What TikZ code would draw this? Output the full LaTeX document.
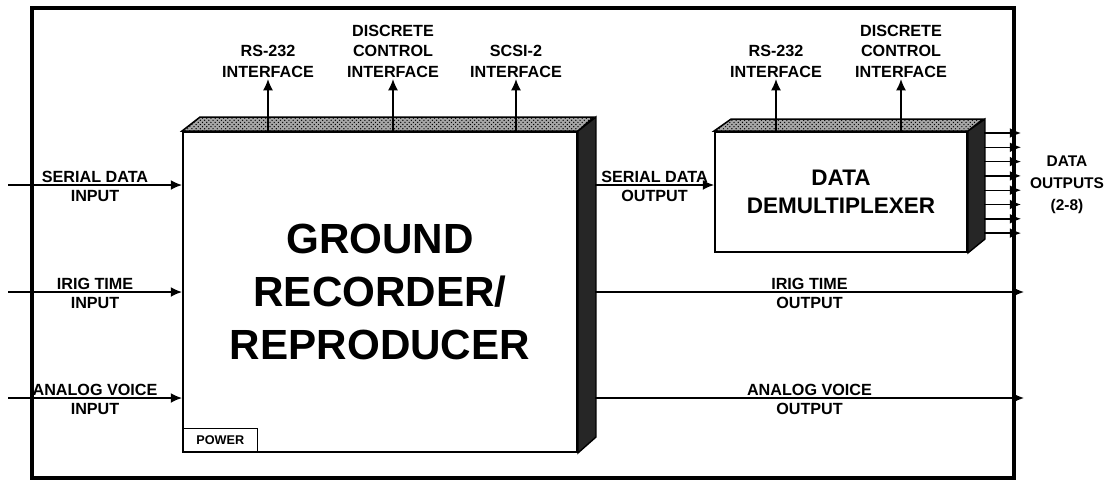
\documentclass[tikz,border=0pt]{standalone}
\usepackage{fontspec}
\setmainfont{Liberation Sans}
\usetikzlibrary{arrows.meta,positioning,patterns}

\tikzset{
  face/.style={draw, line width=1.3pt, fill=white, inner sep=0pt, align=center},
  topband/.style={draw, line width=1.1pt, preaction={fill=black!35}, pattern=crosshatch dots},
  sideband/.style={draw, line width=1pt, fill=black!85},
  sig/.style={line width=1pt, -{Latex[length=8pt,width=7pt]}},
  lbl/.style={font=\fontsize{11.5}{14.5}\selectfont\bfseries, align=center, inner sep=1pt},
}

\begin{document}
\begin{tikzpicture}[x=0.025cm,y=-0.025cm]
            \useasboundingbox (0,0) rectangle (1112,481);

            % outer frame
            \draw[line width=2.6pt] (32,8) rectangle (1014,478);

            % recorder box
            \node[face, minimum width=9.85cm, minimum height=8cm,
                  font=\fontsize{30}{37.5}\selectfont\bfseries] (grr) at (380,292)
                  {GROUND\\RECORDER/\\REPRODUCER};
            \draw[topband] (grr.north west) -- ++(18,-14) -- ++(394,0) -- (grr.north east) -- cycle;
            \draw[sideband] (grr.north east) -- ++(18,-14) -- ++(0,320) -- (grr.south east) -- cycle;
            \node[draw, line width=1pt, anchor=south west, minimum width=1.875cm, minimum height=0.6cm,
                  inner sep=0pt, font=\fontsize{9}{9}\selectfont\bfseries] (pwr) at (grr.south west) {POWER};

            % demultiplexer box
            \node[face, minimum width=6.3cm, minimum height=3cm,
                  font=\fontsize{16}{20}\selectfont\bfseries] (dmx) at (841,192)
                  {DATA\\DEMULTIPLEXER};
            \draw[topband] (dmx.north west) -- ++(17,-12) -- ++(252,0) -- (dmx.north east) -- cycle;
            \draw[sideband] (dmx.north east) -- ++(17,-12) -- ++(0,120) -- (dmx.south east) -- cycle;

            % interfaces on top
            \coordinate (rsa) at (268,132);
            \coordinate (dca) at (393,132);
            \coordinate (scs) at (516,132);
            \coordinate (rsb) at (776,132);
            \coordinate (dcb) at (901,132);
            \node[lbl, anchor=south] (rsalbl) at (268,79) {RS-232\\INTERFACE};
            \node[lbl, anchor=south] (dcalbl) at (393,79) {DISCRETE\\CONTROL\\INTERFACE};
            \node[lbl, anchor=south] (scslbl) at (516,79) {SCSI-2\\INTERFACE};
            \node[lbl, anchor=south] (rsblbl) at (776,79) {RS-232\\INTERFACE};
            \node[lbl, anchor=south] (dcblbl) at (901,79) {DISCRETE\\CONTROL\\INTERFACE};
            \foreach \p in {rsa,dca,scs,rsb,dcb} {
              \draw[sig] (\p) -- (\p lbl.south);
            }

            % inputs
            \coordinate (sdin) at (8,185);
            \coordinate (irin) at (8,292);
            \coordinate (avin) at (8,398);
            \draw[sig] (sdin) -- (grr.west |- sdin)
              node[lbl, midway, above] {SERIAL DATA} node[lbl, midway, below=2pt] {INPUT};
            \draw[sig] (irin) -- (grr.west |- irin)
              node[lbl, midway, above] {IRIG TIME} node[lbl, midway, below=2pt] {INPUT};
            \draw[sig] (avin) -- (grr.west |- avin)
              node[lbl, midway, above] {ANALOG VOICE} node[lbl, midway, below=2pt] {INPUT};

            % outputs
            \coordinate (sdout) at (595,185);
            \coordinate (irout) at (595,292);
            \coordinate (avout) at (595,398);
            \coordinate (irend) at (1024,292);
            \coordinate (avend) at (1024,398);
            \draw[sig] (sdout) -- (dmx.west |- sdout)
              node[lbl, midway, above] {SERIAL DATA} node[lbl, midway, below=2pt] {OUTPUT};
            \draw[sig] (irout) -- (irend)
              node[lbl, midway, above] {IRIG TIME} node[lbl, midway, below=2pt] {OUTPUT};
            \draw[sig] (avout) -- (avend)
              node[lbl, midway, above] {ANALOG VOICE} node[lbl, midway, below=2pt] {OUTPUT};

            % data outputs (2-8)
            \foreach \i in {0,...,7} {
              \coordinate (dsrc\i) at (984,133+14.3*\i);
              \coordinate (dout\i) at (1021,133+14.3*\i);
              \draw[sig] (dsrc\i) -- (dout\i);
            }
            \node[lbl, font=\fontsize{11}{15.5}\selectfont\bfseries] (dolbl) at (1067,185) {DATA\\OUTPUTS\\(2-8)};
\end{tikzpicture}
\end{document}
